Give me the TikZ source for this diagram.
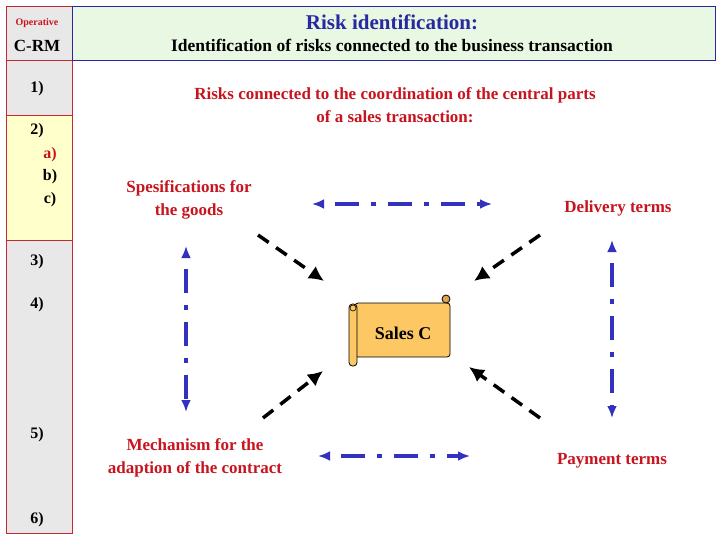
\documentclass[tikz,border=0pt]{standalone}
\usepackage{fontspec}
\setmainfont{Liberation Serif}
\usetikzlibrary{arrows.meta, positioning}
\definecolor{cellgray}{RGB}{232,232,232}
\definecolor{cellyellow}{RGB}{255,255,204}
\definecolor{headgreen}{RGB}{232,248,226}
\definecolor{framered}{RGB}{200,40,50}
\definecolor{textred}{RGB}{200,20,30}
\definecolor{titleblue}{RGB}{40,40,160}
\definecolor{arrowblue}{RGB}{50,50,190}
\definecolor{scrollfill}{RGB}{253,200,100}
\tikzset{
    cell/.style={draw=framered, line width=0.8pt},
    lbl/.style={font=\bfseries\fontsize{16}{19}\selectfont},
    redtxt/.style={font=\bfseries\fontsize{17}{23}\selectfont, text=textred, align=center},
    blueline/.style={draw=arrowblue, line width=3.5pt, dash pattern=on 24pt off 12pt on 5pt off 12pt, dash phase=-12pt, {Latex[length=12pt,width=10pt]}-{Latex[length=12pt,width=10pt]}},
    blackline/.style={draw=black, line width=3.5pt, dash pattern=on 13pt off 9pt, -{Latex[length=15pt,width=15pt]}}
}
\begin{document}
\begin{tikzpicture}[x=1pt, y=-1pt]
    \useasboundingbox (0,0) rectangle (720,540);

    % Left column
    \draw[cell, fill=cellgray] (6,6) rectangle (72,60);
    \draw[cell, fill=cellgray] (6,60) rectangle (72,115);
    \draw[cell, fill=cellyellow] (6,115) rectangle (72,240);
    \draw[cell, fill=cellgray] (6,240) rectangle (72,533);

    % Header
    \draw[draw=titleblue, fill=headgreen, line width=0.8pt] (72,6) rectangle (715,60);

    \node[font=\bfseries\fontsize{10}{12}\selectfont, text=textred] (op) at (37,23) {Operative};
    \node[font=\bfseries\fontsize{17}{20}\selectfont] (crm) at (37,46) {C-RM};
    \node[lbl] (s1) at (37,89) {1)};
    \node[lbl] (s2) at (37,131) {2)};
    \node[lbl, text=textred] (s2a) at (50,155) {a)};
    \node[lbl] (s2b) at (50,177) {b)};
    \node[lbl] (s2c) at (50,200) {c)};
    \node[lbl] (s3) at (37,262) {3)};
    \node[lbl] (s4) at (37,305) {4)};
    \node[lbl] (s5) at (37,435) {5)};
    \node[lbl] (s6) at (37,520) {6)};

    \node[font=\bfseries\fontsize{21}{24}\selectfont, text=titleblue] (title) at (392,22) {Risk identification:};
    \node[font=\bfseries\fontsize{17.5}{20}\selectfont] (sub) at (392,45) {Identification of risks connected to the business transaction};

    \node[redtxt] (intro) at (395,105) {Risks connected to the coordination of the central parts\\of a sales transaction:};

    % Topics
    \node[redtxt] (goods) at (189,200) {Spesifications for\\the goods};
    \node[redtxt] (delivery) at (618,208) {Delivery terms};
    \node[redtxt] (mech) at (195,458) {Mechanism for the\\adaption of the contract};
    \node[redtxt] (payment) at (612,461) {Payment terms};

    % Scroll
    \draw[fill=scrollfill, line width=0.8pt, rounded corners=3pt] (355,303) rectangle (450,357);
    \draw[fill=scrollfill, line width=0.8pt, rounded corners=3.5pt] (349,304) rectangle (357,366);
    \draw[line width=0.6pt] (353,308) circle (3);
    \draw[fill=brown!50!scrollfill, line width=0.8pt] (446,299) circle (4);
    \node[font=\bfseries\fontsize{18}{20}\selectfont] (sales) at (403,333) {Sales C};

    % Blue connectors
    \coordinate (h1a) at (312,204);
    \coordinate (h1b) at (492,204);
    \coordinate (h2a) at (318,456);
    \coordinate (h2b) at (470,456);
    \coordinate (v1a) at (186,246);
    \coordinate (v1b) at (186,412);
    \coordinate (v2a) at (612,240);
    \coordinate (v2b) at (612,418);
    \draw[blueline] (h1a) -- (h1b);
    \draw[blueline] (h2a) -- (h2b);
    \draw[blueline] (v1a) -- (v1b);
    \draw[blueline] (v2a) -- (v2b);

    % Black connectors
    \coordinate (d1s) at (258,235);
    \coordinate (d1e) at (324,281);
    \coordinate (d2s) at (540,235);
    \coordinate (d2e) at (474,281);
    \coordinate (d3s) at (263,418);
    \coordinate (d3e) at (323,371);
    \coordinate (d4s) at (540,418);
    \coordinate (d4e) at (469,367);
    \draw[blackline] (d1s) -- (d1e);
    \draw[blackline] (d2s) -- (d2e);
    \draw[blackline] (d3s) -- (d3e);
    \draw[blackline] (d4s) -- (d4e);
\end{tikzpicture}
\end{document}
